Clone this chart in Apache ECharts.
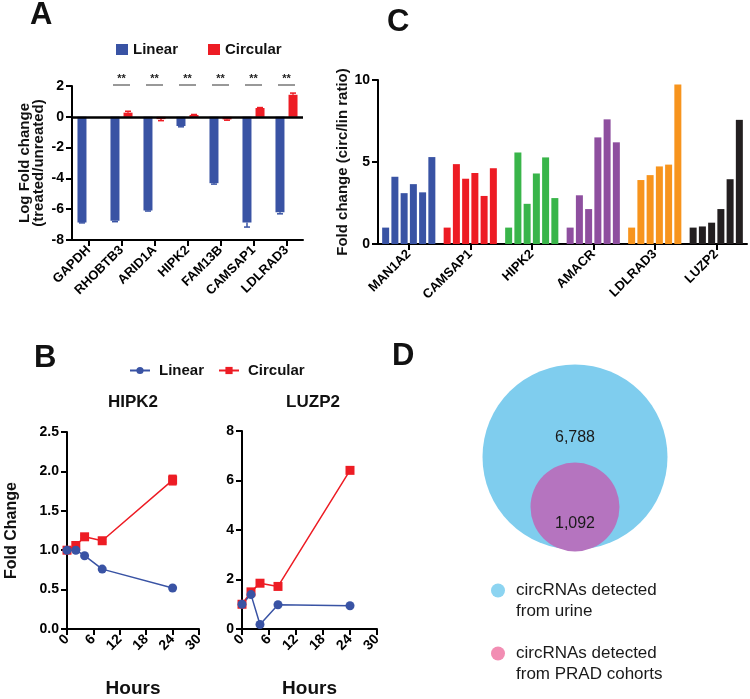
<!DOCTYPE html>
<html>
<head>
<meta charset="utf-8">
<script src="https://cdn.jsdelivr.net/npm/echarts@6/dist/echarts.min.js"></script>
<style>
html,body{margin:0;padding:0;background:#fff;}
#chart{width:750px;height:699px;}
</style>
</head>
<body>
<div id="chart"></div>
<script>
// ---------- Panel A data ----------
const aCategories = ['GAPDH','RHOBTB3','ARID1A','HIPK2','FAM13B','CAMSAP1','LDLRAD3'];
const aLinear = [-6.86,-6.75,-6.08,-0.6,-4.31,-6.86,-6.19];
const aLinearErr = [0.03,0.06,0.04,0.05,0.06,0.3,0.11];
const aCircular = [0,0.27,-0.15,0.12,-0.17,0.57,1.43];
const aCircularErr = [0,0.09,0.1,0.03,0.05,0.03,0.11];
const aSignificant = ['RHOBTB3','ARID1A','HIPK2','FAM13B','CAMSAP1','LDLRAD3'];
const aSigLevel = 2;
const aYTicks = {min:-8, max:2, interval:2};

// ---------- Panel C data ----------
const cCategories = ['MAN1A2','CAMSAP1','HIPK2','AMACR','LDLRAD3','LUZP2'];
const cMAN1A2 = [1,4.1,3.1,3.65,3.15,5.3];
const cCAMSAP1 = [1,4.87,3.98,4.33,2.93,4.62];
const cHIPK2 = [1,5.58,2.45,4.3,5.28,2.8];
const cAMACR = [1,2.97,2.13,6.5,7.6,6.2];
const cLDLRAD3 = [1,3.9,4.2,4.73,4.84,9.72];
const cLUZP2 = [1,1.07,1.3,2.13,3.95,7.57];
const cColors = ['#3953a4','#ed1c24','#39b54a','#8e4f9f','#f7941d','#231f20'];
const cGroups = [cMAN1A2,cCAMSAP1,cHIPK2,cAMACR,cLDLRAD3,cLUZP2];

// ---------- Panel B data ----------
const bHours = [0,2,4,8,24];
const bHIPK2Linear = [1.0,1.0,0.93,0.76,0.52];
const bHIPK2Circular = [1.0,1.06,1.17,1.12,1.89];
const bHIPK2CircularErr = [0,0,0.02,0.02,0.06];
const bLUZP2Linear = [1.0,1.39,0.18,0.98,0.94];
const bLUZP2Circular = [1.0,1.5,1.85,1.72,6.41];

// ---------- Panel D data ----------
const dNames = ['circRNAs detected\nfrom urine','circRNAs detected\nfrom PRAD cohorts'];
const dCounts = [6788,1092];

const FONT = 'Liberation Sans, Arial, sans-serif';
const BLUE = '#3953a4', RED = '#ed1c24';

function axisStyle(extra){
  return Object.assign({
    axisLine:{show:true,onZero:false,lineStyle:{color:'#000',width:2}},
    axisTick:{show:true,length:6,lineStyle:{color:'#000',width:2}},
    axisLabel:{color:'#000',fontWeight:'bold',fontSize:14,fontFamily:FONT},
    splitLine:{show:false},
    nameTextStyle:{color:'#000',fontWeight:'bold',fontFamily:FONT}
  }, extra);
}

const chart = echarts.init(document.getElementById('chart'), null, {renderer:'canvas'});

const cSeries = [];
for (let r = 0; r < 6; r++) {
  cSeries.push({
    type:'bar', name:'rep'+(r+1), xAxisIndex:1, yAxisIndex:1,
    barWidth:7, barGap:'32%',
    data:cCategories.map((g,i)=>({value:cGroups[i][r], itemStyle:{color:cColors[i]}})),
    silent:true
  });
}

const away = (v, e) => v + e*(v >= 0 ? 1 : -1);
const aErrData = [];
aCategories.forEach((c,i)=>{
  if (aLinearErr[i] > 0) aErrData.push([i, aLinear[i], away(aLinear[i], aLinearErr[i]), -1]);
  if (aCircularErr[i] > 0) aErrData.push([i, aCircular[i], away(aCircular[i], aCircularErr[i]), 1]);
});
const bErrData = bHours.map((h,i)=>[h, bHIPK2Circular[i]-bHIPK2CircularErr[i], bHIPK2Circular[i]+bHIPK2CircularErr[i]])
  .filter((d,i)=>bHIPK2CircularErr[i] > 0);

const option = {
  backgroundColor:'#fff',
  animation:false,
  textStyle:{fontFamily:FONT},
  title:[
    {text:'A', left:30, top:0, padding:0, textStyle:{fontSize:31,fontWeight:'bold',color:'#111',fontFamily:FONT}},
    {text:'C', left:387, top:7, padding:0, textStyle:{fontSize:31,fontWeight:'bold',color:'#111',fontFamily:FONT}},
    {text:'B', left:34, top:343, padding:0, textStyle:{fontSize:31,fontWeight:'bold',color:'#111',fontFamily:FONT}},
    {text:'D', left:392, top:341, padding:0, textStyle:{fontSize:31,fontWeight:'bold',color:'#111',fontFamily:FONT}},
    {text:'HIPK2', left:133, top:394, padding:0, textAlign:'center', textStyle:{fontSize:17,fontWeight:'bold',color:'#111',fontFamily:FONT}},
    {text:'LUZP2', left:313, top:394, padding:0, textAlign:'center', textStyle:{fontSize:17,fontWeight:'bold',color:'#111',fontFamily:FONT}}
  ],
  legend:[
    {
      data:[{name:'A-Linear',icon:'rect'},{name:'A-Circular',icon:'rect'}],
      formatter:n=>n.replace('A-',''),
      left:116, top:42, padding:0, itemWidth:12, itemHeight:11, itemGap:30,
      textStyle:{fontSize:15,fontWeight:'bold',color:'#111',fontFamily:FONT},
      selectedMode:false
    },
    {
      data:['Linear','Circular'],
      left:129, top:363, padding:0, itemWidth:20, itemHeight:9, itemGap:14,
      textStyle:{fontSize:15,fontWeight:'bold',color:'#111',fontFamily:FONT,padding:[0,0,0,4]},
      selectedMode:false
    },
    {
      data:[{name:dNames[0],itemStyle:{color:'#8cd4f1'}},{name:dNames[1],itemStyle:{color:'#f28db3'}}],
      formatter:n=>'\n'+n,
      orient:'vertical', left:491, top:559, padding:0, icon:'circle',
      itemWidth:14, itemHeight:14, itemGap:0,
      textStyle:{fontSize:17,lineHeight:21,color:'#1a1a1a',fontFamily:FONT,padding:[0,0,0,6]},
      selectedMode:false
    }
  ],
  grid:[
    {left:72, top:86, width:231, height:154},
    {left:378, top:80, width:369, height:164},
    {left:67, top:432, width:132, height:200},
    {left:242, top:431, width:135, height:200},
    {left:475, top:357, width:200, height:200}
  ],
  xAxis:[
    axisStyle({type:'category', gridIndex:0, data:aCategories, position:'bottom',
      axisTick:{show:true,alignWithLabel:true,length:6,lineStyle:{color:'#000',width:2}},
      axisLabel:{color:'#000',fontWeight:'bold',fontSize:13,fontFamily:FONT,rotate:45,interval:0,margin:8}}),
    axisStyle({type:'category', gridIndex:1, data:cCategories, position:'bottom',
      axisTick:{show:true,alignWithLabel:true,length:6,lineStyle:{color:'#000',width:2}},
      axisLabel:{color:'#000',fontWeight:'bold',fontSize:13,fontFamily:FONT,rotate:45,interval:0,margin:8}}),
    axisStyle({type:'value', gridIndex:2, min:0, max:30, interval:6, name:'Hours', nameLocation:'middle', nameGap:50,
      nameTextStyle:{color:'#111',fontWeight:'bold',fontSize:19,fontFamily:FONT},
      axisLabel:{color:'#000',fontWeight:'bold',fontSize:14,fontFamily:FONT,rotate:45,margin:8}}),
    axisStyle({type:'value', gridIndex:3, min:0, max:30, interval:6, name:'Hours', nameLocation:'middle', nameGap:50,
      nameTextStyle:{color:'#111',fontWeight:'bold',fontSize:19,fontFamily:FONT},
      axisLabel:{color:'#000',fontWeight:'bold',fontSize:14,fontFamily:FONT,rotate:45,margin:8}}),
    {type:'value', gridIndex:4, min:-100, max:100, show:false}
  ],
  yAxis:[
    axisStyle({type:'value', gridIndex:0, min:aYTicks.min, max:aYTicks.max, interval:aYTicks.interval,
      name:'Log Fold change\n(treated/unreated)', nameLocation:'middle', nameGap:26,
      nameTextStyle:{color:'#111',fontWeight:'bold',fontSize:15,lineHeight:14,fontFamily:FONT}}),
    axisStyle({type:'value', gridIndex:1, min:0, max:10, interval:5,
      name:'Fold change (circ/lin ratio)', nameLocation:'middle', nameGap:27,
      nameTextStyle:{color:'#111',fontWeight:'bold',fontSize:15,fontFamily:FONT}}),
    axisStyle({type:'value', gridIndex:2, min:0, max:2.5, interval:0.5,
      name:'Fold Change', nameLocation:'middle', nameGap:47,
      nameTextStyle:{color:'#111',fontWeight:'bold',fontSize:16,fontFamily:FONT},
      axisLabel:{color:'#000',fontWeight:'bold',fontSize:14,fontFamily:FONT,formatter:v=>v.toFixed(1)}}),
    axisStyle({type:'value', gridIndex:3, min:0, max:8, interval:2}),
    {type:'value', gridIndex:4, min:-100, max:100, show:false}
  ],
  series:[
    // Panel A bars
    {type:'bar', name:'A-Linear', xAxisIndex:0, yAxisIndex:0, data:aLinear, barWidth:9, barGap:'45%',
      itemStyle:{color:BLUE}, silent:true,
      markLine:{silent:true, symbol:'none', label:{show:false}, lineStyle:{color:'#000',width:2.5,type:'solid'},
        data:[{yAxis:0}]}},
    {type:'bar', name:'A-Circular', xAxisIndex:0, yAxisIndex:0, data:aCircular, barWidth:9, barGap:'45%',
      itemStyle:{color:RED}, silent:true},
    // Panel A error bars
    {type:'custom', name:'A-err', xAxisIndex:0, yAxisIndex:0, silent:true, z:3,
      data:aErrData,
      renderItem:(params, api)=>{
        const i = api.value(0), side = api.value(3);
        const p0 = api.coord([i, api.value(1)]);
        const p1 = api.coord([i, api.value(2)]);
        const x = p0[0] + side*6.5;
        const col = side < 0 ? BLUE : RED;
        return {type:'group', children:[
          {type:'line', shape:{x1:x,y1:p0[1],x2:x,y2:p1[1]}, style:{stroke:col,lineWidth:1.5}},
          {type:'line', shape:{x1:x-3,y1:p1[1],x2:x+3,y2:p1[1]}, style:{stroke:col,lineWidth:1.5}}
        ]};
      }},
    // Panel A significance
    {type:'custom', name:'A-sig', xAxisIndex:0, yAxisIndex:0, silent:true, clip:false,
      data:aSignificant.map(c=>[aCategories.indexOf(c), aSigLevel]),
      renderItem:(params, api)=>{
        const p = api.coord([api.value(0), api.value(1)]);
        return {type:'group', children:[
          {type:'line', shape:{x1:p[0]-8.5,y1:p[1]-1,x2:p[0]+8.5,y2:p[1]-1}, style:{stroke:'#333',lineWidth:1}},
          {type:'text', style:{text:'**', x:p[0], y:p[1]-2, align:'center', verticalAlign:'bottom',
            font:'bold 11px '+FONT, fill:'#222'}}
        ]};
      }},
    // Panel C bars
    ...cSeries,
    // Panel B HIPK2
    {type:'custom', name:'B-err', xAxisIndex:2, yAxisIndex:2, silent:true, z:1, data:bErrData,
      renderItem:(params, api)=>{
        const lo = api.coord([api.value(0), api.value(1)]);
        const hi = api.coord([api.value(0), api.value(2)]);
        return {type:'group', children:[
          {type:'line', shape:{x1:lo[0],y1:lo[1],x2:hi[0],y2:hi[1]}, style:{stroke:RED,lineWidth:1.5}},
          {type:'line', shape:{x1:lo[0]-4,y1:lo[1],x2:lo[0]+4,y2:lo[1]}, style:{stroke:RED,lineWidth:1.5}},
          {type:'line', shape:{x1:hi[0]-4,y1:hi[1],x2:hi[0]+4,y2:hi[1]}, style:{stroke:RED,lineWidth:1.5}}
        ]};
      }},
    {type:'line', name:'Circular', xAxisIndex:2, yAxisIndex:2, data:bHours.map((h,i)=>[h,bHIPK2Circular[i]]),
      symbol:'rect', symbolSize:9, lineStyle:{color:RED,width:1.5}, itemStyle:{color:RED}, silent:true},
    {type:'line', name:'Linear', xAxisIndex:2, yAxisIndex:2, data:bHours.map((h,i)=>[h,bHIPK2Linear[i]]),
      symbol:'circle', symbolSize:9, lineStyle:{color:BLUE,width:1.5}, itemStyle:{color:BLUE}, silent:true},
    // Panel B LUZP2
    {type:'line', name:'Circular', xAxisIndex:3, yAxisIndex:3, data:bHours.map((h,i)=>[h,bLUZP2Circular[i]]),
      symbol:'rect', symbolSize:9, lineStyle:{color:RED,width:1.5}, itemStyle:{color:RED}, silent:true},
    {type:'line', name:'Linear', xAxisIndex:3, yAxisIndex:3, data:bHours.map((h,i)=>[h,bLUZP2Linear[i]]),
      symbol:'circle', symbolSize:9, lineStyle:{color:BLUE,width:1.5}, itemStyle:{color:BLUE}, silent:true},
    // Panel D Venn
    {type:'scatter', name:dNames[0], xAxisIndex:4, yAxisIndex:4, symbolSize:185, silent:true, z:1,
      itemStyle:{color:'#7fcdee',opacity:1},
      data:[[0,0]],
      label:{show:true, position:'inside', offset:[0,-19], formatter:()=>dCounts[0].toLocaleString('en-US'),
        fontSize:16, color:'#1a1a1a', fontFamily:FONT}},
    {type:'scatter', name:dNames[1], xAxisIndex:4, yAxisIndex:4, symbolSize:89, silent:true, z:2,
      itemStyle:{color:'#b574bf',opacity:1},
      data:[[0,-50]],
      label:{show:true, position:'inside', offset:[0,17], formatter:()=>dCounts[1].toLocaleString('en-US'),
        fontSize:16, color:'#1a1a1a', fontFamily:FONT}}
  ]
};

chart.setOption(option);
</script>
</body>
</html>
